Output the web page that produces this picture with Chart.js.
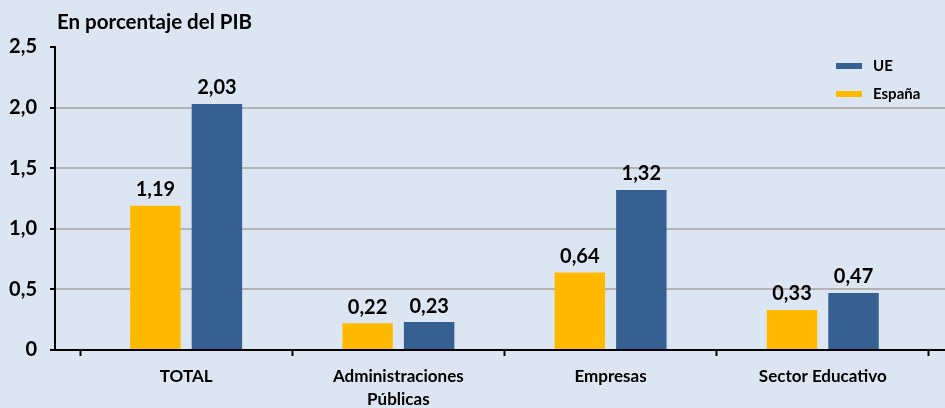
<!DOCTYPE html>
<html>
<head>
<meta charset="utf-8">
<script src="https://cdn.jsdelivr.net/npm/chart.js@4.4.1/dist/chart.umd.min.js"></script>
<style>
  html, body { margin: 0; padding: 0; background: #dce6f2; }
  #wrap { width: 945px; height: 408px; }
</style>
</head>
<body>
<div id="wrap"><canvas id="c"></canvas></div>
<script>
// Gasto en I+D por sector, en porcentaje del PIB
const categories = ['TOTAL', ['Administraciones', 'Públicas'], 'Empresas', 'Sector Educativo'];
const espana = [1.19, 0.22, 0.64, 0.33];
const ue = [2.03, 0.23, 1.32, 0.47];
const yTicks = [0, 0.5, 1.0, 1.5, 2.0, 2.5];
const xTickPos = [-0.5, 0, 0.5, 1, 1.5, 2, 2.5, 3, 3.5];

const FONT = "Lato, 'Open Sans', sans-serif";
const comma = (v, d) => v.toFixed(d).replace('.', ',');
const tickVal = (c) => (c.tick ? c.tick.value : null);

// value labels, title and legend drawn on top of the bars
const overlayPlugin = {
  id: 'overlay',
  afterDatasetsDraw(chart) {
    const ctx = chart.ctx;
    ctx.save();
    ctx.fillStyle = '#000';
    ctx.font = `bold 20px ${FONT}`;
    ctx.textAlign = 'center';
    ctx.textBaseline = 'bottom';
    chart.data.datasets.forEach((ds, i) => {
      chart.getDatasetMeta(i).data.forEach((bar, j) => {
        ctx.fillText(comma(ds.data[j].y, 2), bar.x, bar.y - 6);
      });
    });

    ctx.textAlign = 'left';
    ctx.textBaseline = 'alphabetic';
    ctx.font = `bold 20.5px ${FONT}`;
    ctx.fillText('En porcentaje del PIB', 57, 29);

    // legend: UE first, then España
    ctx.font = `bold 15px ${FONT}`;
    ctx.textBaseline = 'middle';
    [...chart.data.datasets].reverse().forEach((ds, k) => {
      const y = 66 + k * 28;
      ctx.fillStyle = ds.backgroundColor;
      ctx.fillRect(836, y - 3, 26, 6);
      ctx.fillStyle = '#000';
      ctx.fillText(ds.label, 873, y);
    });
    ctx.restore();
  }
};

new Chart(document.getElementById('c'), {
  type: 'bar',
  data: {
    datasets: [
      {
        label: 'España',
        data: espana.map((v, i) => ({ x: i, y: v })),
        backgroundColor: '#ffba00',
        categoryPercentage: 1.16,
        barPercentage: 0.82,
      },
      {
        label: 'UE',
        data: ue.map((v, i) => ({ x: i, y: v })),
        backgroundColor: '#366092',
        categoryPercentage: 1.16,
        barPercentage: 0.82,
      },
    ],
  },
  options: {
    responsive: true,
    maintainAspectRatio: false,
    animation: false,
    layout: { padding: { top: 47, left: 0, right: 0, bottom: 0 } },
    plugins: {
      legend: { display: false },
      tooltip: { enabled: false },
    },
    scales: {
      x: {
        type: 'linear',
        offset: false,
        min: -0.618,
        max: 3.576,
        afterBuildTicks: (s) => { s.ticks = xTickPos.map((v) => ({ value: v })); },
        afterFit: (s) => { s.height = 58; },
        border: { color: '#000', width: 2 },
        grid: {
          offset: false,
          drawOnChartArea: false,
          tickLength: 6,
          tickWidth: 2,
          tickColor: (c) => (Number.isInteger(tickVal(c)) ? 'rgba(0,0,0,0)' : '#000'),
        },
        ticks: {
          autoSkip: false,
          maxRotation: 0,
          padding: 9,
          color: '#000',
          font: { family: FONT, size: 17, weight: 'bold', lineHeight: 1.35 },
          callback: (v) => (Number.isInteger(v) ? categories[v] : ''),
        },
      },
      y: {
        min: 0,
        max: 2.5,
        afterBuildTicks: (s) => { s.ticks = yTicks.map((v) => ({ value: v })); },
        afterFit: (s) => { s.width = 55; },
        border: { color: '#000', width: 2 },
        grid: {
          color: (c) => (tickVal(c) === 2.5 ? 'rgba(0,0,0,0)' : '#b4b4b4'),
          lineWidth: 2,
          tickLength: 5,
          tickWidth: 2,
          tickColor: '#000',
        },
        ticks: {
          padding: 13,
          color: '#000',
          font: { family: FONT, size: 20, weight: 'bold' },
          callback: (v) => (v === 0 ? '0' : comma(v, 1)),
        },
      },
    },
  },
  plugins: [overlayPlugin],
});
</script>
</body>
</html>
